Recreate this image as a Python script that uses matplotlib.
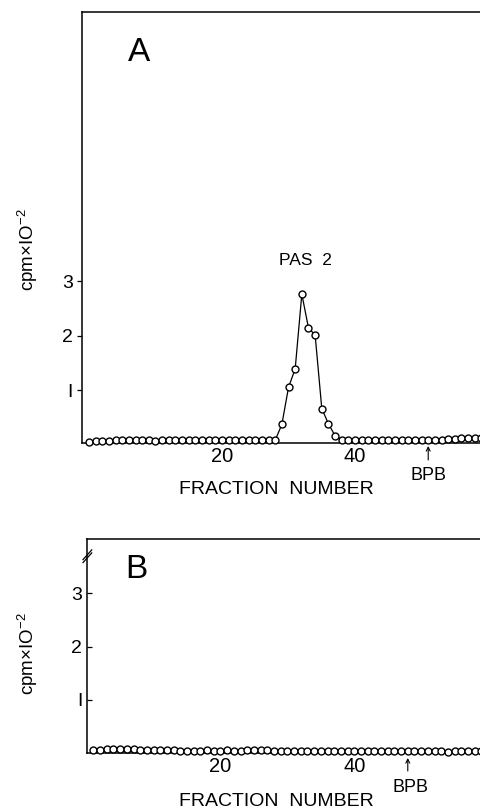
import numpy as np
from matplotlib import pyplot as plt

plt.rcParams['font.family'] = ['Liberation Sans', 'DejaVu Sans']
plt.rcParams['mathtext.fontset'] = 'custom'
plt.rcParams['mathtext.rm'] = 'Liberation Sans'

# panel A: fractions 0..59
fractions_a = np.arange(0, 60)
cpm_a = [0.05, 0.06, 0.06, 0.07, 0.08, 0.08, 0.08, 0.08, 0.08, 0.08,
         0.07, 0.08, 0.08, 0.08, 0.08, 0.08, 0.08, 0.08, 0.08, 0.09,
         0.08, 0.08, 0.08, 0.08, 0.08, 0.09, 0.09, 0.09, 0.08, 0.37,
         1.05, 1.39, 2.76, 2.14, 2.01, 0.66, 0.38, 0.16, 0.09, 0.09,
         0.09, 0.08, 0.09, 0.08, 0.08, 0.08, 0.08, 0.08, 0.08, 0.08,
         0.08, 0.08, 0.08, 0.09, 0.10, 0.11, 0.12, 0.12, 0.12, 0.12]

# panel B: fractions 1..59
fractions_b = np.arange(1, 60)
cpm_b = [0.06, 0.07, 0.08, 0.09, 0.09, 0.08, 0.08, 0.07, 0.07, 0.07,
         0.06, 0.06, 0.06, 0.05, 0.05, 0.05, 0.05, 0.06, 0.05, 0.05,
         0.06, 0.05, 0.05, 0.06, 0.07, 0.06, 0.06, 0.05, 0.05, 0.05,
         0.05, 0.05, 0.05, 0.05, 0.05, 0.05, 0.05, 0.05, 0.05, 0.05,
         0.04, 0.04, 0.04, 0.04, 0.04, 0.04, 0.04, 0.04, 0.04, 0.04,
         0.04, 0.04, 0.04, 0.03, 0.04, 0.04, 0.04, 0.04, 0.04]

yticks = [1, 2, 3]
ytick_labels = ['I', '2', '3']
xticks = [20, 40]
bpb_a = 51
bpb_b = 48

W, H = 480, 810
fig = plt.figure(figsize=(W / 100, H / 100), dpi=100)


def style(ax, tick_dir):
    ax.spines['right'].set_visible(False)
    for s in ['left', 'top', 'bottom']:
        ax.spines[s].set_linewidth(1.1)
    ax.set_yticks(yticks)
    ax.set_yticklabels(ytick_labels)
    ax.set_xticks(xticks)
    ax.tick_params(axis='y', direction=tick_dir, length=3.5, width=0.9, labelsize=14, pad=3)
    ax.tick_params(axis='x', direction='in', length=2, width=0.8, labelsize=14.5, pad=3)


def draw(ax, x, y):
    ax.plot(x, y, '-', color='black', linewidth=0.9, zorder=2)
    ax.plot(x, y, 'o', markersize=5.0, markerfacecolor='white',
            markeredgecolor='black', markeredgewidth=1.0, zorder=3, clip_on=False)


def labels(ylab_y, xlab_y, arrow_x, arrow_top, arrow_bot, bpb_x, bpb_y):
    fig.text(28 / W, 1 - ylab_y / H, r'cpm$\times$IO$^{-2}$', fontsize=13.5,
             rotation=90, ha='center', va='center')
    fig.text(276 / W, 1 - xlab_y / H, 'FRACTION  NUMBER', fontsize=14,
             ha='center', va='center')
    fig.text(bpb_x / W, 1 - bpb_y / H, 'BPB', fontsize=13, ha='center', va='center')
    fig.patches.append(plt.matplotlib.patches.FancyArrowPatch(
        (arrow_x / W, 1 - arrow_bot / H), (arrow_x / W, 1 - arrow_top / H),
        transform=fig.transFigure, arrowstyle='->', mutation_scale=7,
        lw=0.8, color='black', shrinkA=0, shrinkB=0))


# ---- panel A
ax_a = fig.add_axes([82 / W, 1 - 442.5 / H, 440 / W, 430.5 / H])
draw(ax_a, fractions_a, cpm_a)
ax_a.set_xlim(-1.05, 65.1)
ax_a.set_ylim(0.037, 7.94)
style(ax_a, 'out')
ax_a.text(0.13, 0.905, 'A', transform=ax_a.transAxes, fontsize=24, va='center', ha='center')
ax_a.text(32.6, 3.38, 'PAS  2', fontsize=12.5, ha='center', va='center')
labels(250, 489, ax_a.transData.transform((bpb_a, 0))[0], 446, 460, 428, 475)

# ---- panel B
ax_b = fig.add_axes([86.5 / W, 1 - 753.3 / H, 435 / W, 214.3 / H])
draw(ax_b, fractions_b, cpm_b)
ax_b.set_xlim(-0.03, 65.0)
ax_b.set_ylim(0, 4.02)
style(ax_b, 'in')
ax_b.text(0.115, 0.86, 'B', transform=ax_b.transAxes, fontsize=24, va='center', ha='center')
labels(654, 801, ax_b.transData.transform((bpb_b, 0))[0], 758, 771, 410, 787)
# axis break marks on the left spine
for dy in (0.0, 0.014):
    ax_b.plot([-0.008, 0.012], [0.89 + dy, 0.935 + dy], color='black', lw=0.9,
              transform=ax_b.transAxes, clip_on=False)

fig.savefig('out.png', dpi=100, facecolor='white')
